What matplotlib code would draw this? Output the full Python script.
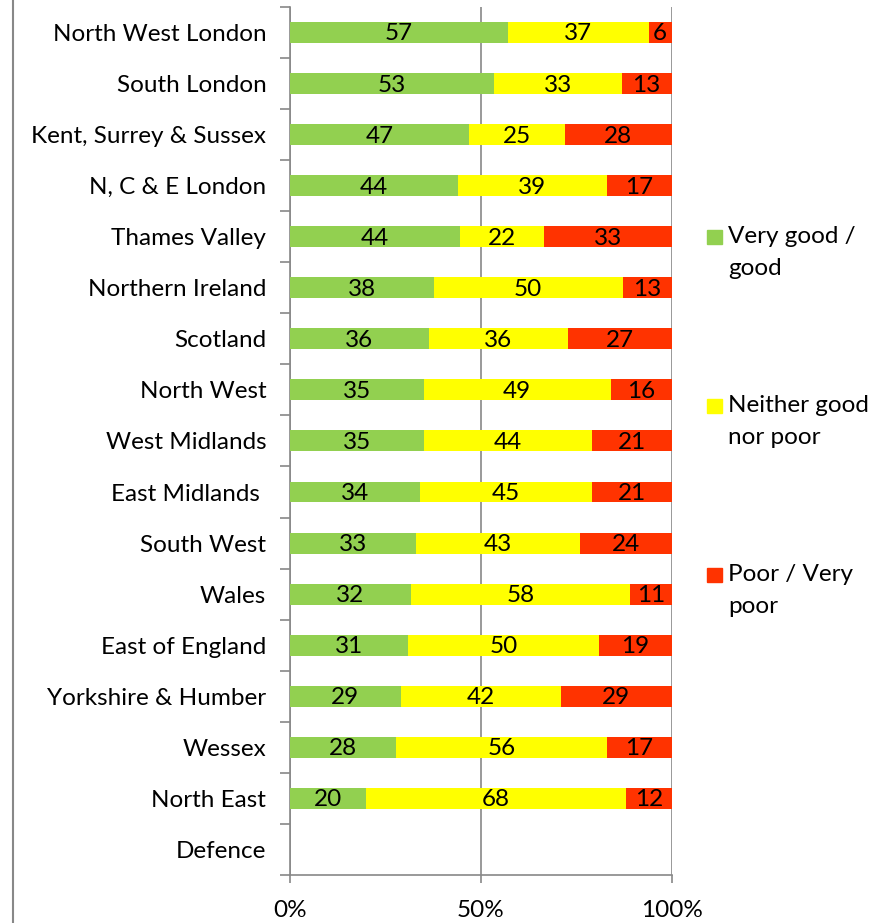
import matplotlib.pyplot as plt
from matplotlib.patches import Rectangle
from matplotlib.lines import Line2D
import numpy as np

plt.rcParams['font.family'] = ['Lato', 'DejaVu Sans']

# Data (top to bottom)
regions = ['North West London', 'South London', 'Kent, Surrey & Sussex', 'N, C & E London',
           'Thames Valley', 'Northern Ireland', 'Scotland', 'North West', 'West Midlands',
           'East Midlands ', 'South West', 'Wales', 'East of England', 'Yorkshire & Humber',
           'Wessex', 'North East', 'Defence']
good = [57, 53, 47, 44, 44, 38, 36, 35, 35, 34, 33, 32, 31, 29, 28, 20, 0]
neither = [37, 33, 25, 39, 22, 50, 36, 49, 44, 45, 43, 58, 50, 42, 56, 68, 0]
poor = [6, 13, 28, 17, 33, 13, 27, 16, 21, 21, 24, 11, 19, 29, 17, 12, 0]

series_names = ['Very good /\ngood', 'Neither good\nnor poor', 'Poor / Very\npoor']
colors = ['#92D050', '#FFFF00', '#FF3300']

fs = 17.5

fig = plt.figure(figsize=(8.92, 9.23), dpi=100)
ax = fig.add_axes([0.325, 0.052, 0.428, 0.9405])

n = len(regions)
y = np.arange(n)
series = [np.array(good, float), np.array(neither, float), np.array(poor, float)]
total = series[0] + series[1] + series[2]
total[total == 0] = 1

left = np.zeros(n)
for vals, col in zip(series, colors):
    w = vals / total
    ax.barh(y, w, left=left, height=0.41, color=col, zorder=3)
    for i in range(n):
        if vals[i] > 0:
            ax.text(left[i] + w[i] / 2, y[i] + 0.03, f'{int(vals[i])}', ha='center',
                    va='center', fontsize=fs, color='black', zorder=4)
    left += w

ax.set_ylim(n - 0.5, -0.5)
ax.set_xlim(0, 1)
ax.set_yticks(y)
ax.set_yticklabels(regions, fontsize=fs)
ax.set_yticks(np.arange(n + 1) - 0.5, minor=True)
ax.tick_params(axis='y', which='major', length=0, pad=17)
ax.tick_params(axis='y', which='minor', length=7, color='#888888', width=1.2)
ax.set_xticks([0, 0.5, 1])
ax.set_xticklabels(['0%', '50%', '100%'], fontsize=fs)
ax.tick_params(axis='x', length=6, color='#888888', width=1.2, pad=12)
ax.xaxis.grid(True, color='#888888', linewidth=1.2, zorder=0)
for s in ['top', 'right']:
    ax.spines[s].set_visible(False)
for s in ['left', 'bottom']:
    ax.spines[s].set_color('#888888')
    ax.spines[s].set_linewidth(1.2)

# outer frame line at far left
fig.add_artist(Line2D([13 / 892, 13 / 892], [0, 1], color='#888888', linewidth=1.5,
                      transform=fig.transFigure))

# legend drawn manually
sq_tops = [230, 399, 568]
for name, col, top in zip(series_names, colors, sq_tops):
    fig.add_artist(Rectangle((707 / 892, 1 - (top + 14) / 923), 15 / 892, 14 / 923,
                             color=col, transform=fig.transFigure))
    fig.text(728 / 892, 1 - (top - 4) / 923, name, fontsize=fs, va='top', ha='left',
             linespacing=1.62)

fig.savefig('out.png', dpi=100)
